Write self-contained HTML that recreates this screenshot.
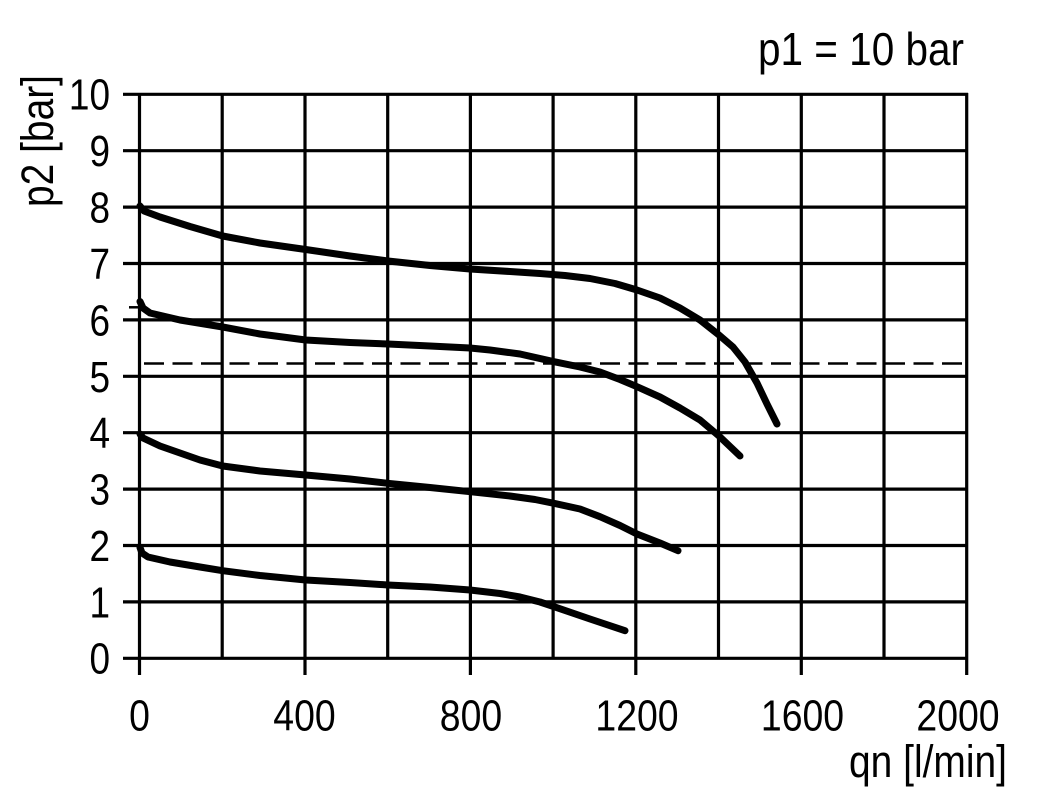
<!DOCTYPE html>
<html>
<head>
<meta charset="utf-8">
<style>
html,body{margin:0;padding:0;background:#fff;}
svg{display:block;}
text{font-family:"Liberation Sans",Arial,sans-serif;fill:#000;}
</style>
</head>
<body>
<svg width="1051" height="803" viewBox="0 0 1051 803" xmlns="http://www.w3.org/2000/svg">
<rect width="1051" height="803" fill="#fff"/>
<g stroke="#000" stroke-width="3.2" fill="none" stroke-linecap="butt">
  <line x1="123" y1="94.3" x2="968" y2="94.3"/>
  <line x1="123" y1="150.7" x2="968" y2="150.7"/>
  <line x1="123" y1="207.1" x2="968" y2="207.1"/>
  <line x1="123" y1="263.5" x2="968" y2="263.5"/>
  <line x1="123" y1="319.9" x2="968" y2="319.9"/>
  <line x1="123" y1="376.3" x2="968" y2="376.3"/>
  <line x1="123" y1="432.7" x2="968" y2="432.7"/>
  <line x1="123" y1="489.1" x2="968" y2="489.1"/>
  <line x1="123" y1="545.5" x2="968" y2="545.5"/>
  <line x1="123" y1="601.9" x2="968" y2="601.9"/>
  <line x1="123" y1="658.3" x2="968" y2="658.3"/>
  <line x1="139.5" y1="93" x2="139.5" y2="675"/>
  <line x1="222.2" y1="93" x2="222.2" y2="659.5"/>
  <line x1="305" y1="93" x2="305" y2="675"/>
  <line x1="387.7" y1="93" x2="387.7" y2="659.5"/>
  <line x1="470.4" y1="93" x2="470.4" y2="675"/>
  <line x1="553.1" y1="93" x2="553.1" y2="659.5"/>
  <line x1="635.8" y1="93" x2="635.8" y2="675"/>
  <line x1="718.5" y1="93" x2="718.5" y2="659.5"/>
  <line x1="801.3" y1="93" x2="801.3" y2="675"/>
  <line x1="884" y1="93" x2="884" y2="659.5"/>
  <line x1="966.7" y1="93" x2="966.7" y2="675"/>
  <line x1="129" y1="307.3" x2="140" y2="307.3" stroke-width="2.5"/>
  <line x1="144" y1="363.5" x2="966" y2="363.5" stroke-width="2.6" stroke-dasharray="20 8.5"/>
</g>

<g stroke="#000" stroke-width="7" fill="none" stroke-linecap="round" stroke-linejoin="round">
  <polyline points="140,206 144,211 160,217 190,226.5 222.7,236 260,243 305.7,249.5 350,256 388,261 430,265.5 470,269 510,271.5 540,273.5 565,275.5 590,278.5 615,283.5 637,290 660,298 680,308 700,320 719,335 733,347 745,362 757,383 767,404 777,424"/>
  <polyline points="140,301.5 143,308 150,313 180,320 222.7,327 260,334 305.7,340 350,342.5 388,344 430,346 470,348 490,350 520,354 554,361.7 580,367 600,372 620,379.5 637,386.7 660,397 680,408 700,420 719,436 740,456"/>
  <polyline points="140,434 143,438 160,446 180,453 200,460 222.7,466 260,471 305.7,475 350,479 388,483.3 430,487.5 470,491.7 510,496 535,499.5 554,503.3 580,509 600,516.7 620,525.5 637,534 660,543 678,550.7"/>
  <polyline points="140,547.5 142,553 148,557 170,562 200,567 222.7,570.7 260,575.5 305.7,580 350,582.5 388,585 430,587 470,590 500,593.5 520,597 540,602 554,606.7 590,619 625,630.7"/>
</g>

<g font-size="44" text-anchor="end">
  <text transform="translate(110,109.5) scale(0.84,1)">10</text>
  <text transform="translate(110,166) scale(0.84,1)">9</text>
  <text transform="translate(110,222.5) scale(0.84,1)">8</text>
  <text transform="translate(110,279) scale(0.84,1)">7</text>
  <text transform="translate(110,335.5) scale(0.84,1)">6</text>
  <text transform="translate(110,392) scale(0.84,1)">5</text>
  <text transform="translate(110,448) scale(0.84,1)">4</text>
  <text transform="translate(110,504.5) scale(0.84,1)">3</text>
  <text transform="translate(110,561) scale(0.84,1)">2</text>
  <text transform="translate(110,617.5) scale(0.84,1)">1</text>
  <text transform="translate(110,673.5) scale(0.84,1)">0</text>
</g>

<g font-size="44" text-anchor="middle">
  <text transform="translate(139.5,730.5) scale(0.85,1)">0</text>
  <text transform="translate(304.5,730.5) scale(0.85,1)">400</text>
  <text transform="translate(471,730.5) scale(0.85,1)">800</text>
  <text transform="translate(637,730.5) scale(0.85,1)">1200</text>
  <text transform="translate(802.5,730.5) scale(0.85,1)">1600</text>
  <text transform="translate(958,730.5) scale(0.85,1)">2000</text>
</g>

<text x="849" y="777" font-size="45" textLength="158" lengthAdjust="spacingAndGlyphs">qn [l/min]</text>
<text transform="translate(53,207) rotate(-90)" font-size="45" textLength="132" lengthAdjust="spacingAndGlyphs">p2 [bar]</text>
<text x="758" y="65" font-size="46" textLength="206" lengthAdjust="spacingAndGlyphs">p1 = 10 bar</text>
</svg>
</body>
</html>
